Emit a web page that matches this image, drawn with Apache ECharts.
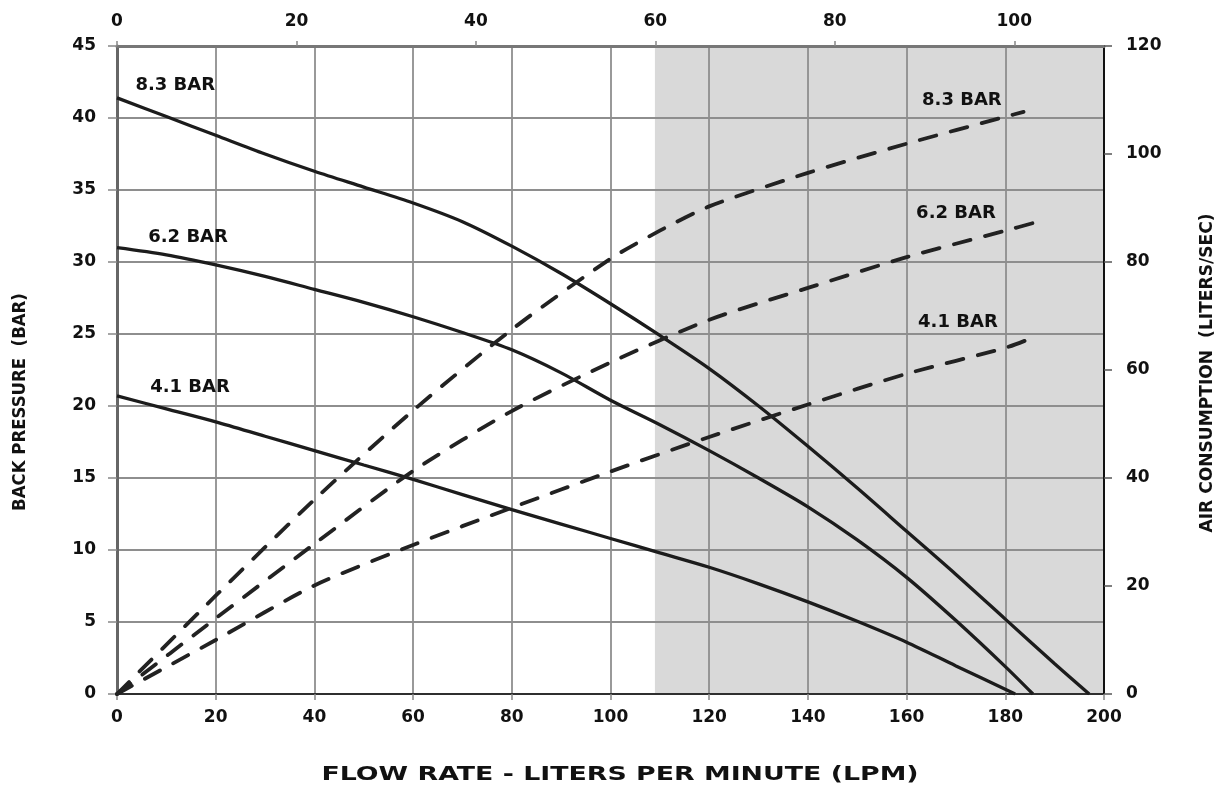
<!DOCTYPE html>
<html><head><meta charset="utf-8">
<script src="https://cdn.jsdelivr.net/npm/echarts@6/dist/echarts.min.js"></script>
<style>html,body{margin:0;padding:0;background:#fff}#c{width:1219px;height:787px}</style>
</head><body><div id="c"></div>
<script>
// Back pressure (BAR) vs flow rate (LPM) — solid curves, left axis
const bp83 = [[0,41.4],[10,40.1],[20,38.8],[30,37.5],[40,36.3],[50,35.2],[60,34.1],[70,32.8],[80,31.1],[90,29.2],[100,27.1],[110,24.9],[120,22.6],[130,20.0],[140,17.2],[150,14.3],[160,11.3],[170,8.3],[180,5.2],[190,2.1],[197,0]];
const bp62 = [[0,31.0],[10,30.5],[20,29.8],[30,29.0],[40,28.1],[50,27.2],[60,26.2],[70,25.1],[80,23.9],[90,22.3],[100,20.4],[110,18.7],[120,16.9],[130,15.0],[140,13.0],[150,10.7],[160,8.1],[170,5.1],[180,1.9],[185.6,0]];
const bp41 = [[0,20.7],[10,19.8],[20,18.9],[30,17.9],[40,16.9],[50,15.9],[60,14.9],[70,13.85],[80,12.8],[90,11.8],[100,10.8],[110,9.8],[120,8.8],[130,7.65],[140,6.4],[150,5.05],[160,3.6],[170,1.95],[182,0]];
// Air consumption (liters/sec) vs flow rate (LPM) — dashed curves, right axis
const air83 = [[0,0],[20,18.2],[40,36.0],[60,52.5],[80,67.5],[100,80.6],[110,85.8],[120,90.3],[140,96.5],[160,101.9],[180,106.9],[183.7,107.8]];
const air62 = [[0,0],[20,14.0],[40,27.8],[60,41.3],[80,52.4],[100,61.4],[120,69.3],[140,75.2],[160,80.9],[180,85.8],[186,87.3]];
const air41 = [[0,0],[20,10.0],[40,20.1],[60,27.6],[80,34.5],[100,41.2],[120,47.6],[140,53.6],[160,59.3],[180,64.1],[185.3,65.9]];
const curveNames = ['8.3 BAR', '6.2 BAR', '4.1 BAR'];
// label anchors (data coords)
const leftLabelAt = [[11.8,42.3],[14.4,31.7],[14.8,21.3]];
const rightLabelAt = [[171.2,110],[170,89.1],[170.4,68.9]];
// shaded band (LPM)
const shadeRange = [109, 200];

const chart = echarts.init(document.getElementById('c'));
const TXT = '#111';
const FF = '"DejaVu Sans", Verdana, sans-serif';
const labelFont = {color: TXT, fontWeight: 'bold', fontSize: 18, fontFamily: FF};
const tickFont = {color: TXT, fontWeight: 'bold', fontSize: 17, fontFamily: FF};
const gridLine = {show: true, lineStyle: {color: '#8e8e8e', width: 1.8}};

function mp(name, coord) {
  return {
    symbol: 'circle', symbolSize: 1, itemStyle: {color: 'rgba(0,0,0,0)'},
    label: Object.assign({show: true, position: 'inside', formatter: '{b}'}, labelFont),
    data: [{name: name, coord: coord}]
  };
}
function solid(data, i) {
  return {type: 'line', data: data, xAxisIndex: 0, yAxisIndex: 0, smooth: 0.3, showSymbol: false, symbol: 'none',
    lineStyle: {color: '#1c1c1c', width: 3.3}, z: 3, markPoint: mp(curveNames[i], leftLabelAt[i]), silent: true};
}
function dashed(data, i) {
  return {type: 'line', data: data, xAxisIndex: 0, yAxisIndex: 1, smooth: 0.25, showSymbol: false, symbol: 'none',
    lineStyle: {color: '#222', width: 3.8, type: [17, 15], cap: 'round'}, z: 3, markPoint: mp(curveNames[i], rightLabelAt[i]), silent: true};
}

chart.setOption({
  animation: false,
  backgroundColor: '#fff',
  grid: {left: 117, right: 115, top: 46, bottom: 93, containLabel: false},
  xAxis: [
    {type: 'value', position: 'bottom', min: 0, max: 200, interval: 20,
     axisLine: {show: true, onZero: false, lineStyle: {color: '#111', width: 1.6}},
     axisTick: {show: true, length: 6, lineStyle: {color: '#888', width: 1.5}},
     axisLabel: Object.assign({margin: 15}, tickFont),
     splitLine: gridLine},
    {type: 'value', position: 'top', min: 0, max: 110, interval: 20,
     axisLine: {show: true, onZero: false, lineStyle: {color: '#777', width: 3}},
     axisTick: {show: true, length: 5, lineStyle: {color: '#888', width: 1.5}},
     axisLabel: Object.assign({margin: 16, showMaxLabel: false}, tickFont),
     splitLine: {show: false}}
  ],
  yAxis: [
    {type: 'value', position: 'left', min: 0, max: 45, interval: 5,
     axisLine: {show: true, onZero: false, lineStyle: {color: '#666', width: 3}},
     axisTick: {show: true, length: 9, lineStyle: {color: '#888', width: 1.5}},
     axisLabel: Object.assign({margin: 21}, tickFont),
     splitLine: gridLine},
    {type: 'value', position: 'right', min: 0, max: 120, interval: 20,
     axisLine: {show: true, onZero: false, lineStyle: {color: '#111', width: 2}},
     axisTick: {show: true, length: 8, lineStyle: {color: '#555', width: 1.5}},
     axisLabel: Object.assign({margin: 22}, tickFont),
     splitLine: {show: false}}
  ],
  series: [
    {type: 'line', data: [], xAxisIndex: 0, yAxisIndex: 0, z: -2, silent: true,
     markArea: {silent: true, z: -2, itemStyle: {color: '#d9d9d9'}, data: [[{xAxis: shadeRange[0]}, {xAxis: shadeRange[1]}]]}},
    solid(bp83, 0), solid(bp62, 1), solid(bp41, 2),
    dashed(air83, 0), dashed(air62, 1), dashed(air41, 2)
  ],
  graphic: [
    {type: 'text', x: 20, y: 402, rotation: Math.PI / 2, scaleX: 0.92, z: 10,
     style: {text: 'BACK PRESSURE  (BAR)', font: 'bold 18px ' + FF, fill: TXT, textAlign: 'center', textVerticalAlign: 'middle', align: 'center', verticalAlign: 'middle'}},
    {type: 'text', x: 1207, y: 373, rotation: Math.PI / 2, scaleX: 0.95, z: 10,
     style: {text: 'AIR CONSUMPTION  (LITERS/SEC)', font: 'bold 18px ' + FF, fill: TXT, textAlign: 'center', textVerticalAlign: 'middle', align: 'center', verticalAlign: 'middle'}},
    {type: 'text', x: 620, y: 775, scaleX: 1.34, z: 10,
     style: {text: 'FLOW RATE - LITERS PER MINUTE (LPM)', font: 'bold 20px ' + FF, fill: TXT, textAlign: 'center', textVerticalAlign: 'middle', align: 'center', verticalAlign: 'middle'}}
  ]
});
</script></body></html>
